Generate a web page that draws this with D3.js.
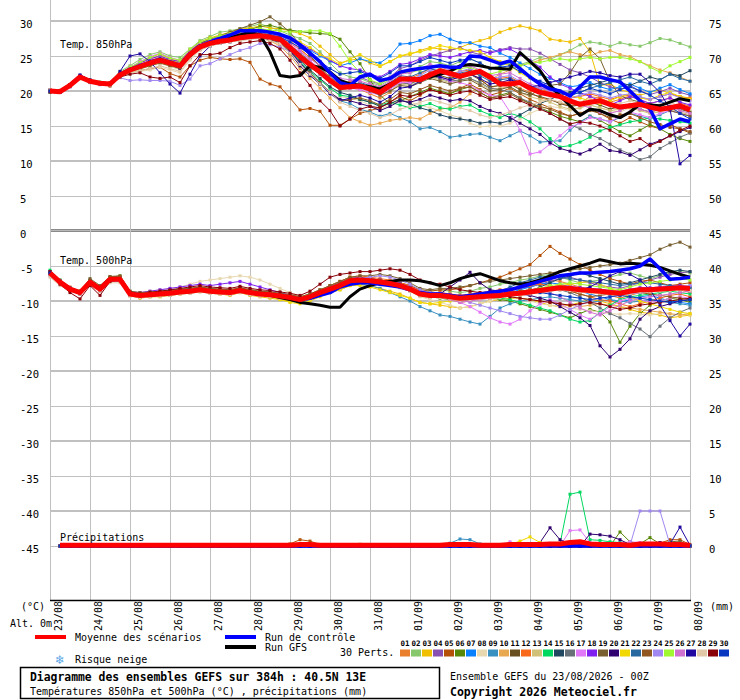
<!DOCTYPE html>
<html><head><meta charset="utf-8">
<script src="https://cdn.jsdelivr.net/npm/d3@7"></script>
<style>body{margin:0;background:#fff}svg{display:block}</style>
</head><body><svg id="chart" width="740" height="700"></svg>
<script>
// ---------------- DATA ----------------
const dates = ["23/08","24/08","25/08","26/08","27/08","28/08","29/08","30/08","31/08","01/09","02/09","03/09","04/09","05/09","06/09","07/09","08/09"];
const leftTicks = [30,25,20,15,10,5,0,-5,-10,-15,-20,-25,-30,-35,-40,-45];
const rightTicks = [75,70,65,60,55,50,45,40,35,30,25,20,15,10,5,0];
const memberColors = ["#e8802e","#88c86c","#f0c000","#8850b0","#b45008","#588808","#0880ff","#e8d8b0","#3890c0","#e8a850","#685020","#f86818","#d0c078","#00d860","#204860","#687078","#e078f8","#8020f0","#786030","#300070","#f0d800","#2868a0","#905820","#a088f0","#a0f830","#d070d0","#2008a0","#e0c8a8","#880008","#0838c0"];

const t850Mean = [20.0,19.9,20.8,22.0, 21.4,21.1,21.0,22.3, 23.0,23.5,24.0,24.4, 24.0,23.6,25.2,26.3, 26.8,27.1,27.3,27.6, 27.8,27.9,27.7,27.4, 26.2,24.9,23.8,22.7, 21.5,20.5,20.6,20.7, 20.3,19.8,20.8,21.7, 21.7,21.6,22.3,22.9, 22.5,22.1,22.5,22.8, 22.0,21.0,21.0,21.2, 20.4,19.8,19.5,19.2, 18.6,18.1,18.4,18.6, 18.1,17.7,17.9,18.1, 17.7,17.4,17.6,17.9, 17.3];
const t850Ctrl = [20.0,19.9,20.8,22.1, 21.4,21.1,21.0,22.4, 23.1,23.6,24.1,24.5, 24.1,23.7,25.3,26.4, 27.0,27.5,28.0,28.6, 28.6,28.6,28.4,28.1, 27.6,26.6,25.4,24.2, 22.6,21.2,20.8,22.0, 22.4,21.5,21.8,22.7, 23.0,23.2,23.4,23.6, 23.4,23.4,25.0,24.9, 24.4,23.9,24.3,23.2, 22.0,21.0,20.3,20.0, 19.3,20.6,22.0,22.0, 21.6,21.3,20.0,18.6, 17.4,14.6,15.3,16.0, 15.6];
const t850Gfs = [20.0,19.9,20.9,22.0, 21.4,21.1,21.0,22.3, 23.0,23.5,24.0,24.4, 24.0,23.6,25.2,26.3, 26.8,27.2,27.6,28.0, 28.4,28.0,25.6,22.2, 22.0,22.2,23.6,23.4, 22.7,21.5,21.0,20.8, 20.6,20.3,21.0,21.7, 21.6,21.8,22.0,22.4, 22.8,23.6,23.8,23.6, 23.3,23.2,23.1,25.5, 24.2,22.9,20.8,19.3, 17.9,16.5,17.4,17.2, 16.6,16.2,17.0,18.1, 18.0,17.9,18.4,18.9, 18.6];
const t850Members = [
[20.1,19.8,20.9,22.1, 21.3,21.0,20.8,22.5, 23.4,24.0,24.6,25.0, 24.3,23.9,25.8,26.9, 27.5,27.8,28.0,28.3, 28.6,28.9,28.5,28.0, 27.2,26.0,24.8,23.5, 22.0,20.8,20.5,20.2, 19.6,19.0,19.8,21.2, 21.0,21.8,22.6,22.0, 21.5,22.0,22.5,21.8, 20.5,20.8,21.2,20.4, 19.8,19.0,18.7,18.4, 17.8,18.3,19.2,19.0, 18.4,18.8,19.3,18.7, 18.2,18.6,19.0,18.3, 17.8],
[20.0,20.1,20.7,21.8, 21.6,21.3,21.2,22.8, 23.6,24.5,25.2,25.6, 25.0,24.8,26.0,27.2, 27.8,28.4,28.6,28.9, 29.2,29.6,29.1,28.6, 28.0,27.5,26.8,25.6, 24.0,22.6,22.0,21.8, 21.2,20.8,21.6,22.4, 22.8,23.5,24.2,24.0, 23.6,24.2,24.6,24.0, 23.2,23.6,24.0,23.8, 24.2,24.8,24.5,25.2, 25.8,26.6,27.0,26.8, 26.4,26.9,26.6,26.4, 26.9,27.5,27.3,26.8, 26.3],
[20.2,19.9,20.9,22.0, 21.5,21.2,21.1,22.4, 23.2,24.0,24.8,25.3, 24.6,24.2,25.9,27.0, 27.6,28.0,28.4,28.8, 29.0,29.3,29.0,28.9, 28.6,28.2,27.6,26.4, 25.2,24.0,24.4,24.6, 24.0,23.5,24.2,25.0, 25.2,25.8,26.2,26.0, 25.8,26.2,26.8,27.2, 27.6,28.4,28.9,29.3, 29.0,28.6,27.4,27.2, 27.0,27.5,25.6,20.8, 21.0,20.2,19.8,19.4, 19.8,20.2,19.6,19.2, 19.0],
[19.9,19.8,20.6,21.9, 21.3,21.0,20.9,22.1, 22.8,23.4,24.2,24.7, 24.0,23.4,25.0,26.4, 27.0,27.4,27.6,27.9, 28.2,28.4,28.0,27.6, 26.6,25.2,24.0,22.8, 21.6,20.6,21.4,22.0, 21.4,21.0,22.0,23.2, 23.6,24.4,25.0,25.4, 25.8,26.2,25.6,25.2, 25.6,25.9,26.2,26.0, 26.0,25.4,24.6,23.8, 23.0,22.6,22.0,21.2, 20.6,20.2,20.8,20.0, 19.5,19.9,20.4,19.8, 19.4],
[20.1,20.0,20.9,22.2, 21.5,21.0,20.7,22.0, 22.6,22.9,23.2,23.4, 22.5,22.0,23.6,24.4, 24.8,24.6,24.5,24.6, 24.1,21.7,21.0,20.6, 19.0,17.3,17.5,17.1, 15.1,15.1,16.0,16.8, 17.2,17.6,18.4,19.2, 18.6,19.4,20.2,19.8, 19.6,20.4,21.0,20.2, 19.4,19.8,20.4,19.6, 18.8,18.2,17.6,17.0, 16.4,16.8,17.4,16.8, 16.0,15.4,16.2,15.6, 15.0,14.6,15.2,14.6, 14.0],
[19.8,19.9,20.8,22.0, 21.4,21.2,21.1,22.6, 23.3,23.8,24.2,24.6, 24.2,24.0,25.6,26.7, 27.2,27.6,27.9,28.4, 28.8,29.2,29.4,29.0, 28.7,28.5,28.3,28.2, 28.1,27.4,25.6,23.9, 21.6,19.4,18.2,18.6, 19.2,19.8,20.4,20.0, 19.6,20.2,20.6,19.8, 19.0,19.4,19.8,19.0, 18.2,17.6,17.0,16.4, 16.0,15.6,16.4,15.8, 15.0,14.2,13.6,14.4, 15.2,14.6,13.8,13.2, 12.8],
[20.0,19.9,20.8,22.1, 21.4,21.2,21.0,22.4, 23.1,23.6,24.1,24.6, 24.2,23.8,25.4,26.6, 27.2,27.5,27.7,28.0, 28.3,28.5,28.2,27.8, 27.3,26.6,25.8,25.0, 24.3,23.6,24.0,24.6, 24.2,24.0,25.0,26.7, 26.8,27.2,27.9,28.1, 27.4,26.9,26.9,26.4, 26.2,25.4,24.8,24.0, 23.2,22.4,21.8,21.2, 20.6,20.8,21.2,20.6, 20.2,20.6,21.0,20.4, 19.8,20.4,20.9,20.2, 19.6],
[20.2,20.0,20.6,21.7, 21.2,21.0,20.9,22.0, 22.6,22.8,23.0,23.4, 23.0,22.6,24.4,25.8, 26.4,26.8,27.0,27.2, 27.4,27.6,27.2,26.6, 25.6,24.4,23.0,21.8, 20.6,19.2,19.0,18.6, 18.0,17.4,18.0,18.8, 18.4,18.0,17.6,17.2, 16.6,16.2,15.4,14.9, 15.0,15.0,15.4,16.0, 16.8,17.4,17.8,17.6, 17.2,17.6,18.0,17.6, 17.2,17.0,17.6,17.4, 17.0,17.2,17.8,17.4, 17.0],
[20.0,19.8,20.7,21.9, 21.4,21.1,21.0,22.2, 22.9,23.4,23.8,24.2, 23.8,23.4,25.0,26.2, 26.7,27.0,27.2,27.5, 27.7,27.8,27.4,27.0, 25.8,24.2,22.6,21.2, 19.8,18.6,18.2,17.4, 17.0,16.4,16.8,16.2, 15.6,14.6,14.8,14.2, 13.4,13.6,13.8,13.9, 13.4,12.9,13.6,14.3, 13.6,12.7,12.8,12.9, 14.4,15.6,16.4,16.0, 15.6,16.2,16.8,16.4, 16.0,16.6,17.2,16.8, 16.4],
[20.1,20.0,20.8,22.0, 21.4,21.0,20.9,22.3, 23.0,23.3,23.8,24.2, 23.8,23.3,25.0,26.2, 26.6,26.9,27.2,27.4, 27.6,27.6,27.2,26.4, 25.0,23.2,21.8,20.4, 19.0,17.6,16.2,15.6, 15.1,15.4,15.8,16.0, 16.2,16.0,16.8,17.4, 17.6,18.4,19.6,20.8, 21.6,22.4,23.0,23.6, 24.0,24.4,24.8,25.2, 25.6,25.2,25.0,25.6, 25.8,25.2,24.9,24.2, 23.6,23.0,22.6,22.0, 21.4],
[19.9,19.9,20.9,22.0, 21.3,21.1,21.1,22.2, 22.8,23.2,23.9,24.3, 23.9,23.7,25.2,26.2, 26.8,27.2,27.4,27.7, 27.9,28.0,27.7,27.3, 26.0,24.6,23.4,22.4, 21.2,20.2,20.4,20.6, 20.2,19.6,20.4,21.5, 21.4,22.0,22.6,22.2, 21.8,22.2,22.4,21.6, 20.6,20.8,21.0,20.2, 19.6,19.2,18.8,18.2, 17.8,18.0,18.4,18.0, 17.4,17.8,18.0,17.4, 17.0,17.4,17.8,17.4, 17.0],
[20.0,20.0,20.9,22.2, 21.5,21.2,21.0,22.4, 23.0,23.6,24.2,24.6, 24.1,23.8,25.4,26.6, 27.0,27.3,27.5,27.8, 28.0,28.1,27.9,27.6, 26.8,25.9,24.8,23.6, 22.4,21.4,21.2,21.0, 20.6,20.0,20.8,21.8, 21.8,22.4,23.2,22.8, 22.4,22.8,23.0,22.4, 21.6,21.8,22.0,21.2, 20.6,20.2,19.9,19.4, 19.0,19.2,19.6,19.2, 18.8,19.2,19.4,19.0, 18.8,19.2,19.6,19.2, 18.9],
[20.1,19.9,20.7,21.9, 21.3,21.0,20.9,22.1, 22.7,23.1,23.6,24.0, 23.5,23.1,24.8,26.0, 26.5,26.9,27.1,27.4, 27.6,27.7,27.5,27.2, 26.4,25.4,24.2,23.0, 21.8,20.9,20.8,20.6, 20.0,19.4,20.0,21.0, 20.8,21.4,22.0,21.6, 21.2,21.6,21.8,21.0, 20.2,20.4,20.6,19.8, 19.2,18.8,18.4,17.8, 17.4,17.6,18.0,17.6, 17.2,17.4,17.6,17.2, 16.8,17.0,17.4,17.0, 16.6],
[20.0,19.9,20.8,22.0, 21.4,21.2,21.0,22.3, 23.0,23.5,23.9,24.3, 23.9,23.5,25.1,26.3, 26.8,27.1,27.3,27.6, 27.8,27.9,27.6,27.2, 25.8,24.2,22.8,21.6, 20.4,19.4,19.2,18.8, 18.4,18.0,18.4,18.0, 17.6,17.8,18.2,17.6, 17.4,17.8,18.0,17.2, 16.6,16.2,16.8,16.4, 15.6,14.6,13.2,12.0, 12.2,12.7,13.4,14.3, 14.8,15.2,15.6,15.8, 16.2,16.0,15.8,15.6, 15.4],
[19.9,19.8,20.7,21.9, 21.3,21.1,21.0,22.2, 22.9,23.4,23.9,24.3, 23.9,23.4,25.0,26.2, 26.7,27.0,27.2,27.5, 27.7,27.8,27.5,27.1, 26.0,24.5,23.0,21.8, 20.6,19.8,19.4,18.8, 18.4,17.8,18.2,18.8, 18.2,17.6,17.2,16.6, 16.2,16.0,15.8,15.4, 15.6,15.4,15.8,16.6, 17.4,18.2,18.8,19.4, 19.8,20.4,20.8,21.2, 21.6,21.2,20.8,21.4, 22.0,21.6,22.4,22.2, 22.9],
[20.0,19.9,20.8,22.0, 21.4,21.1,20.9,22.3, 23.0,23.5,24.0,24.4, 24.0,23.6,25.2,26.4, 26.9,27.2,27.4,27.7, 27.9,28.0,27.8,27.5, 26.5,25.4,24.3,23.2, 22.0,21.0,20.8,20.6, 20.2,19.8,20.4,21.2, 21.0,21.6,22.2,21.8, 21.4,21.6,21.8,21.2, 20.4,20.2,19.8,19.0, 18.4,17.6,16.8,16.0, 15.2,14.6,13.8,13.2, 12.4,11.6,11.0,10.2, 10.6,11.8,12.6,13.4, 14.0],
[20.2,20.0,20.9,22.1, 21.5,21.2,21.1,22.6, 23.4,24.2,24.9,25.4, 24.8,24.4,25.9,26.9, 27.4,27.8,28.0,28.3, 28.5,28.6,28.2,27.8, 27.0,25.8,24.4,23.0, 21.8,20.6,20.4,20.2, 19.8,19.4,20.2,21.2, 21.2,21.8,22.4,22.0, 21.4,21.2,20.8,20.0, 19.4,19.2,17.0,14.4, 11.0,11.3,12.4,13.6, 14.8,15.4,16.2,16.0, 15.6,16.4,17.0,16.6, 16.2,16.8,17.2,16.8, 16.4],
[20.0,19.8,20.8,22.1, 21.4,21.1,21.0,22.5, 23.3,24.0,24.6,25.0, 24.5,24.2,25.7,26.8, 27.3,27.7,27.9,28.2, 28.4,28.6,28.3,27.9, 27.4,26.8,26.0,25.2, 24.4,23.6,23.2,23.0, 22.4,22.0,22.8,23.8, 24.0,24.6,25.2,25.0, 24.8,25.2,25.6,25.8, 25.4,25.8,26.0,25.2, 24.4,23.4,22.0,21.0, 20.4,19.8,19.2,18.6, 18.0,18.6,19.2,18.8, 18.2,18.6,19.0,18.4, 18.0],
[20.1,19.9,20.8,22.0, 21.4,21.1,21.0,22.3, 23.0,23.6,24.2,24.8, 24.4,24.0,25.6,26.8, 27.4,27.9,28.4,28.9, 29.4,29.9,30.6,29.6, 28.4,26.6,25.0,23.6, 22.4,21.4,21.0,20.6, 20.0,19.4,20.0,20.8, 20.6,21.2,21.8,21.4, 21.0,21.4,21.6,20.8, 20.0,20.2,20.6,19.8, 19.4,20.2,20.8,21.0, 22.6,24.8,26.0,24.6, 21.3,19.3,18.8,18.4, 18.0,17.6,17.2,16.8, 16.4],
[19.9,19.9,20.9,22.1, 21.4,21.2,21.1,22.4, 23.1,23.5,23.9,24.2, 23.7,23.2,24.8,26.0, 26.5,26.8,27.0,27.3, 27.5,27.6,27.3,26.9, 25.4,23.6,22.2,21.0, 19.8,18.8,18.6,18.2, 17.8,17.2,17.8,18.6, 18.4,18.8,19.4,19.0, 18.6,18.8,18.6,17.8, 17.2,16.8,16.2,15.4, 14.6,13.8,12.6,11.8, 11.4,11.0,11.6,12.4, 11.5,11.3,10.8,11.6, 12.4,12.9,13.6,14.2, 14.8],
[20.0,20.0,20.8,22.0, 21.4,21.2,21.1,22.4, 23.2,23.8,24.4,24.8, 24.3,24.0,25.5,26.6, 27.1,27.5,27.7,28.0, 28.2,28.4,28.2,28.0, 27.6,27.0,26.2,25.2, 24.6,23.8,24.6,25.2, 24.4,23.6,24.2,25.0, 25.4,25.6,26.0,26.5, 26.2,26.0,25.8,25.6, 24.8,24.2,23.6,22.6, 21.8,21.0,20.6,20.0, 19.4,19.0,18.6,18.2, 18.6,19.2,19.6,19.0, 18.8,19.4,19.8,19.2, 18.8],
[20.1,19.9,20.8,22.0, 21.4,21.1,20.9,22.3, 22.9,23.5,24.0,24.4, 24.0,23.6,25.2,26.4, 26.9,27.2,27.5,27.8, 28.0,28.1,27.8,27.4, 26.4,25.0,23.8,22.6, 21.4,20.4,20.8,21.2, 20.8,20.4,21.2,22.2, 22.0,22.6,23.2,22.8, 22.4,22.6,22.8,22.2, 21.4,21.6,21.8,21.2, 20.6,20.4,20.2,19.6, 19.4,19.8,20.4,20.8, 21.2,21.6,22.0,21.4, 21.0,21.6,22.4,21.8, 21.4],
[20.0,20.0,20.8,21.9, 21.3,21.0,21.0,22.2, 22.8,23.2,23.6,24.0, 23.6,23.3,25.0,26.2, 26.7,27.0,27.2,27.5, 27.6,27.7,27.4,27.0, 25.6,24.0,22.6,21.2, 19.8,18.6,18.8,19.0, 18.6,18.0,18.8,19.8, 19.6,20.2,20.8,20.4, 20.0,20.4,20.6,19.8, 19.0,19.2,19.6,18.8, 18.2,17.8,17.4,16.8, 16.4,16.8,17.2,16.8, 16.2,16.6,16.8,16.2, 15.6,15.2,14.8,14.6, 14.2],
[20.0,19.8,20.6,21.8, 21.2,20.9,20.9,21.9, 21.5,21.6,21.5,21.5, 21.4,20.8,21.7,23.6, 23.9,24.6,25.2,25.8, 26.2,26.8,26.6,26.3, 25.6,24.8,23.6,22.4, 21.2,20.4,20.6,20.8, 20.4,20.0,20.8,21.8, 21.6,22.2,23.0,22.6, 22.2,22.8,23.2,22.6, 21.8,22.0,22.2,21.4, 20.8,20.4,20.0,19.4, 19.0,19.4,19.8,19.4, 19.0,19.4,19.6,19.2, 18.8,19.2,19.6,19.0, 18.6],
[20.1,20.0,20.9,22.1, 21.5,21.2,21.1,22.6, 23.4,24.1,24.8,25.3, 24.7,24.4,26.0,27.0, 27.5,27.9,28.2,28.5, 28.7,28.9,28.7,28.6, 28.4,28.5,28.6,28.6, 28.2,26.4,24.2,22.6, 21.6,21.0,21.8,22.8, 22.6,23.0,23.6,23.2, 22.8,23.2,23.4,22.8, 22.4,22.8,23.2,23.6, 24.0,24.1,24.4,24.6, 24.4,24.6,24.8,24.6, 24.8,24.8,24.6,24.2, 23.4,22.7,23.6,24.2, 24.8],
[20.0,19.9,20.8,22.0, 21.4,21.1,21.0,22.4, 23.2,23.8,24.4,24.8, 24.3,23.9,25.5,26.6, 27.1,27.4,27.6,27.9, 28.1,28.2,27.9,27.5, 26.6,25.6,24.6,23.6, 22.6,21.8,21.6,21.4, 21.0,20.6,21.4,22.4, 22.6,23.2,23.8,23.4, 23.0,23.4,23.6,23.0, 22.2,22.4,22.6,21.8, 21.0,20.6,20.0,19.2, 18.4,18.0,17.6,17.0, 16.8,17.2,17.8,17.4, 17.0,17.4,17.8,17.2, 16.8],
[20.0,19.8,20.9,22.3, 21.6,21.2,21.0,22.8, 25.0,25.3,24.2,22.6, 21.0,19.7,22.4,25.0, 26.4,27.0,27.4,27.8, 28.0,28.2,27.8,27.2, 25.8,24.0,22.4,21.0, 19.6,18.6,19.0,19.4, 19.0,18.4,19.2,20.4, 20.6,21.4,22.2,22.0, 21.6,22.0,22.4,21.8, 21.0,21.2,21.6,21.2, 20.6,20.8,21.2,21.6, 22.0,22.4,22.8,22.6, 22.2,22.0,22.4,22.4, 21.2,19.8,17.4,9.6, 10.8],
[20.1,20.0,20.7,21.8, 21.3,21.0,20.9,22.0, 22.6,22.9,23.2,23.6, 23.2,22.8,24.6,25.9, 26.4,26.8,27.0,27.2, 27.4,27.5,27.2,26.8, 25.4,23.8,22.4,21.0, 19.8,18.4,17.8,17.2, 16.8,16.2,16.6,17.4, 17.8,18.4,18.8,18.4, 18.0,17.6,17.2,16.6, 16.2,16.6,17.0,17.6, 18.0,18.4,18.8,18.4, 18.0,18.4,18.8,18.4, 18.0,18.2,18.6,18.2, 17.8,18.0,18.4,17.8, 17.4],
[20.0,19.9,20.7,21.9, 21.3,21.0,21.1,22.0, 22.4,22.6,22.0,21.8, 22.0,21.2,23.6,25.2, 25.2,25.4,26.2,26.8, 27.0,27.2,26.8,26.0, 24.4,22.6,20.8,18.6, 17.2,15.0,16.0,17.4, 17.8,17.6,18.4,19.4, 19.2,19.6,20.2,19.8, 19.4,19.8,20.0,19.4, 18.8,19.0,19.2,18.6, 18.0,17.4,16.8,16.0, 15.3,15.6,15.4,15.0, 14.4,13.6,12.8,13.2, 12.2,12.8,13.6,14.4, 15.0],
[20.0,19.9,20.8,22.0, 21.4,21.1,21.0,22.4, 23.1,23.7,24.3,24.7, 24.2,23.8,25.4,26.5, 27.0,27.3,27.6,27.9, 28.1,28.2,28.0,27.7, 27.0,26.2,25.2,24.2, 23.2,22.4,22.6,22.8, 22.2,21.8,22.6,23.6, 23.6,24.2,24.8,24.4, 24.0,24.4,24.6,24.0, 23.2,23.4,23.6,22.8, 22.0,21.4,20.8,20.0, 19.4,19.8,20.4,20.0, 19.6,20.2,20.6,20.0, 19.4,18.6,17.8,16.8, 16.0]
];

const t500Mean = [-6.0,-7.3,-8.3,-8.8, -7.3,-8.3,-6.9,-6.9, -9.0,-9.2,-9.1,-9.0, -8.9,-8.7,-8.6,-8.4, -8.6,-8.7,-8.8,-8.5, -8.8,-9.0,-9.1,-9.3, -9.5,-9.8,-9.4,-8.8, -8.3,-7.8,-7.1,-7.0, -7.1,-7.3,-7.5,-7.8, -8.3,-9.0,-9.2,-9.2, -9.4,-9.6,-9.5,-9.4, -9.3,-9.2,-9.0,-8.9, -8.7,-8.5,-8.3,-8.1, -8.2,-8.4,-8.5,-8.6, -8.8,-8.9,-8.6,-8.4, -8.4,-8.3,-8.2,-8.1, -8.2];
const t500Ctrl = [-6.0,-7.3,-8.3,-8.8, -7.3,-8.3,-6.9,-6.9, -9.0,-9.2,-9.1,-9.0, -8.9,-8.7,-8.6,-8.4, -8.6,-8.7,-8.8,-8.5, -8.8,-9.0,-9.1,-9.3, -9.5,-9.8,-9.6,-9.2, -8.8,-8.0,-7.6,-7.4, -7.4,-7.6,-7.8,-8.0, -8.4,-8.8,-9.0,-9.0, -9.2,-9.4,-9.2,-9.0, -8.8,-8.6,-8.4,-8.0, -7.6,-7.2,-6.8,-6.4, -6.2,-6.0,-6.0,-5.9, -5.8,-5.6,-5.4,-5.0, -4.0,-5.4,-6.9,-6.8, -6.6];
const t500Gfs = [-6.0,-7.3,-8.3,-8.8, -7.3,-8.3,-6.9,-6.9, -9.0,-9.2,-9.1,-9.0, -8.9,-8.7,-8.6,-8.4, -8.6,-8.7,-8.8,-8.5, -8.8,-9.0,-9.2,-9.5, -9.8,-10.2,-10.4,-10.6, -10.9,-10.9,-9.4,-8.3, -7.8,-7.4,-7.2,-7.0, -7.0,-7.1,-7.4,-7.8, -7.4,-6.8,-6.4,-6.1, -6.6,-7.1,-7.4,-7.6, -7.4,-7.0,-6.4,-5.8, -5.4,-5.0,-4.6,-4.1, -4.4,-4.7,-4.6,-4.7, -4.9,-5.2,-5.7,-6.2, -6.6];
const t500Members = [
[-5.8,-7.1,-8.2,-8.9, -7.2,-8.1,-6.8,-6.6, -8.8,-9.4,-9.3,-9.2, -9.0,-8.6,-8.4,-8.2, -8.4,-8.5,-8.6,-8.2, -8.6,-8.8,-9.0,-9.4, -9.6,-10.0,-9.6,-8.6, -7.8,-7.2,-6.6,-6.8, -6.9,-7.0,-7.2,-7.6, -8.0,-8.8,-9.0,-9.4, -9.8,-10.2,-10.0,-9.6, -9.2,-8.8,-8.6,-8.2, -7.8,-7.4,-7.0,-7.2, -7.6,-8.0,-8.4,-8.8, -9.2,-9.6,-9.2,-8.8, -8.6,-8.2,-8.0,-8.4, -8.8],
[-6.2,-7.4,-8.4,-8.6, -7.0,-8.0,-6.6,-6.4, -8.6,-8.9,-8.8,-8.6, -8.6,-8.4,-8.2,-8.0, -8.2,-8.4,-8.5,-8.2, -8.4,-8.6,-8.8,-9.0, -9.2,-9.4,-9.0,-8.4, -8.0,-7.4,-6.8,-6.6, -6.8,-7.0,-7.2,-7.4, -7.8,-8.4,-8.6,-8.4, -8.6,-8.8,-8.6,-8.2, -8.0,-7.6,-7.4,-7.0, -6.8,-6.4,-6.2,-6.6, -7.0,-7.4,-7.2,-7.0, -6.6,-6.2,-6.0,-6.4, -6.8,-6.4,-6.0,-5.8, -6.0],
[-6.0,-7.5,-8.5,-9.0, -7.6,-8.6,-7.2,-7.2, -9.2,-9.6,-9.4,-9.4, -9.2,-9.0,-8.8,-8.6, -8.8,-9.0,-9.2,-8.8, -9.2,-9.4,-9.6,-9.8, -10.0,-10.2,-9.8,-9.2, -8.8,-8.4,-7.8,-7.6, -7.8,-8.2,-8.6,-9.0, -9.6,-10.2,-10.4,-10.6, -10.8,-11.0,-10.8,-10.4, -10.0,-9.8,-9.6,-9.6, -9.8,-10.2,-10.6,-10.8, -10.6,-10.2,-9.8,-10.0, -10.4,-10.8,-11.2,-11.6, -11.8,-12.0,-12.4,-12.2, -12.0],
[-5.9,-7.2,-8.2,-8.8, -7.4,-8.4,-7.0,-7.0, -9.0,-9.2,-9.0,-8.9, -8.8,-8.6,-8.5,-8.3, -8.5,-8.6,-8.7,-8.4, -8.7,-8.9,-9.0,-9.2, -9.4,-9.6,-9.2,-8.6, -8.0,-7.4,-6.8,-6.8, -7.0,-7.2,-7.4,-7.6, -8.2,-8.8,-9.0,-9.0, -9.2,-9.4,-9.2,-9.0, -8.8,-8.6,-8.4,-8.2, -8.0,-7.6,-7.2,-6.8, -6.6,-7.0,-7.4,-7.8, -8.0,-8.2,-7.8,-7.4, -7.0,-6.6,-6.2,-6.0, -5.8],
[-6.1,-7.3,-8.4,-8.9, -7.3,-8.3,-6.9,-6.8, -8.9,-9.1,-9.0,-8.8, -8.7,-8.5,-8.3,-8.1, -8.3,-8.4,-8.5,-8.2, -8.5,-8.7,-8.9,-9.1, -9.3,-9.6,-9.2,-8.6, -8.0,-7.4,-6.8,-6.6, -6.8,-7.0,-7.2,-7.4, -7.8,-8.4,-8.6,-8.4, -8.4,-8.2,-7.8,-7.4, -7.0,-6.6,-6.0,-5.4, -4.8,-3.5,-2.2,-3.2, -4.0,-4.8,-5.6,-6.2, -6.8,-7.2,-7.6,-7.2, -7.0,-7.4,-7.8,-7.6, -7.4],
[-5.9,-7.2,-8.3,-8.7, -7.2,-8.2,-6.8,-6.8, -8.9,-9.1,-9.0,-8.9, -8.8,-8.6,-8.5,-8.3, -8.5,-8.6,-8.7,-8.4, -8.7,-8.9,-9.0,-9.2, -9.4,-9.7,-9.3,-8.7, -8.2,-7.6,-7.0,-6.9, -7.0,-7.2,-7.4,-7.8, -8.4,-9.2,-9.4,-9.6, -9.8,-10.0,-9.8,-9.6, -9.6,-9.8,-10.0,-10.4, -10.8,-11.2,-11.6,-12.0, -12.4,-11.8,-11.2,-11.6, -13.0,-15.9,-13.6,-11.8, -10.6,-10.0,-9.6,-9.8, -10.2],
[-6.0,-7.3,-8.3,-8.8, -7.3,-8.3,-6.9,-6.9, -9.1,-9.3,-9.2,-9.1, -9.0,-8.8,-8.7,-8.5, -8.7,-8.8,-8.9,-8.6, -8.9,-9.1,-9.2,-9.4, -9.6,-9.9,-9.5,-8.9, -8.4,-7.9,-7.2,-7.1, -7.2,-7.4,-7.6,-7.9, -8.4,-9.1,-9.3,-9.3, -9.6,-9.8,-9.8,-9.6, -9.4,-9.2,-8.8,-8.4, -8.0,-7.6,-7.4,-7.6, -8.0,-8.6,-9.0,-9.4, -9.8,-10.2,-9.8,-9.4, -9.2,-9.6,-10.0,-10.2, -10.4],
[-6.2,-7.4,-8.2,-8.6, -7.0,-8.0,-6.8,-6.6, -8.6,-8.8,-8.6,-8.4, -8.2,-8.0,-7.6,-7.2, -7.0,-6.8,-6.6,-6.4, -6.6,-7.0,-7.6,-8.2, -8.8,-9.4,-9.2,-8.6, -8.0,-7.4,-6.8,-6.6, -6.8,-7.2,-7.6,-8.0, -8.6,-9.4,-9.8,-10.2, -10.6,-11.0,-10.8,-10.4, -10.0,-9.6,-9.4,-9.6, -10.0,-10.4,-10.6,-10.8, -11.0,-11.2,-11.4,-11.6, -11.8,-11.9,-11.8,-11.9, -12.0,-11.8,-11.9,-12.0, -11.9],
[-5.9,-7.2,-8.3,-8.9, -7.4,-8.4,-7.0,-7.1, -9.2,-9.4,-9.3,-9.2, -9.1,-8.9,-8.8,-8.6, -8.8,-8.9,-9.0,-8.7, -9.0,-9.2,-9.4,-9.6, -9.8,-10.2,-9.8,-9.2, -8.6,-8.2,-7.6,-7.6, -7.8,-8.2,-8.8,-9.4, -10.0,-10.8,-11.4,-12.0, -12.2,-12.6,-13.0,-13.3, -12.2,-11.0,-10.4,-10.0, -9.8,-9.6,-9.4,-9.6, -9.8,-10.0,-10.2,-10.0, -9.8,-10.0,-10.2,-10.0, -9.8,-10.0,-10.2,-10.4, -10.6],
[-6.0,-7.4,-8.4,-8.9, -7.4,-8.4,-7.0,-7.0, -9.1,-9.3,-9.2,-9.1, -9.0,-8.8,-8.7,-8.5, -8.7,-8.8,-8.9,-8.6, -8.9,-9.1,-9.2,-9.4, -9.6,-9.9,-9.5,-8.8, -8.2,-7.6,-6.9,-6.8, -6.9,-7.0,-7.2,-7.5, -8.0,-8.6,-8.8,-8.8, -9.0,-9.2,-9.2,-9.0, -9.0,-9.2,-9.4,-9.6, -9.8,-10.0,-10.2,-10.4, -10.6,-10.8,-10.6,-10.4, -10.6,-10.8,-11.0,-11.2, -11.4,-11.6,-11.8,-12.0, -11.8],
[-6.1,-7.3,-8.2,-8.7, -7.0,-8.0,-6.6,-6.6, -8.8,-9.0,-8.9,-8.8, -8.7,-8.5,-8.4,-8.2, -8.4,-8.5,-8.6,-8.3, -8.6,-8.8,-8.9,-9.1, -9.3,-9.6,-9.2,-8.6, -8.1,-7.6,-7.0,-6.9, -7.0,-7.2,-7.4,-7.7, -8.2,-8.9,-9.1,-9.1, -9.3,-9.5,-9.4,-9.3, -9.2,-9.1,-8.9,-8.8, -8.6,-8.4,-8.2,-8.0, -8.1,-8.3,-8.4,-8.5, -8.7,-8.8,-8.5,-8.3, -8.3,-8.2,-8.1,-8.0, -8.1],
[-5.8,-7.0,-8.0,-8.6, -7.1,-8.1,-6.7,-6.6, -8.7,-8.9,-8.8,-8.7, -8.5,-8.3,-8.2,-8.0, -8.2,-8.3,-8.4,-8.1, -8.4,-8.6,-8.7,-8.9, -9.1,-9.4,-9.0,-8.4, -7.8,-7.2,-6.6,-6.4, -6.6,-6.8,-7.0,-7.4, -7.8,-8.6,-8.8,-8.8, -9.0,-9.2,-9.0,-8.8, -8.6,-8.4,-8.2,-8.0, -7.8,-7.6,-7.8,-8.2, -8.6,-9.0,-9.4,-9.8, -10.0,-10.4,-10.8,-10.4, -10.0,-9.6,-9.2,-9.0, -9.4],
[-6.3,-7.5,-8.5,-9.0, -7.6,-8.6,-7.2,-7.2, -9.3,-9.5,-9.4,-9.3, -9.2,-9.0,-8.9,-8.7, -8.9,-9.0,-9.1,-8.8, -9.1,-9.3,-9.4,-9.6, -9.8,-10.1,-9.7,-9.1, -8.6,-8.1,-7.4,-7.3, -7.4,-7.6,-7.8,-8.1, -8.6,-9.3,-9.5,-9.5, -9.7,-9.9,-9.8,-9.7, -9.6,-9.5,-9.3,-9.2, -9.0,-8.8,-8.6,-8.4, -8.5,-8.7,-8.8,-8.9, -9.1,-9.2,-8.9,-8.7, -8.7,-8.6,-8.5,-8.4, -8.5],
[-5.6,-7.0,-8.1,-8.6, -7.1,-8.1,-6.7,-6.7, -8.8,-9.0,-8.9,-8.8, -8.7,-8.5,-8.4,-8.2, -8.4,-8.5,-8.6,-8.3, -8.6,-8.8,-8.9,-9.1, -9.3,-9.6,-9.2,-8.6, -8.1,-7.6,-7.0,-6.9, -7.0,-7.2,-7.4,-7.7, -8.2,-8.9,-9.1,-9.1, -9.3,-9.5,-9.4,-9.3, -9.4,-9.6,-9.8,-10.2, -10.6,-11.0,-11.4,-12.0, -12.6,-13.0,-12.8,-11.6, -10.6,-9.8,-9.4,-9.2, -9.0,-8.8,-8.6,-8.8, -9.0],
[-6.0,-7.2,-8.2,-8.8, -7.2,-8.2,-6.8,-6.8, -8.9,-9.1,-9.0,-8.9, -8.8,-8.6,-8.5,-8.3, -8.5,-8.6,-8.7,-8.4, -8.7,-8.9,-9.0,-9.2, -9.4,-9.7,-9.3,-8.7, -8.2,-7.7,-7.0,-6.9, -7.0,-7.2,-7.4,-7.7, -8.2,-8.9,-9.1,-9.1, -9.3,-9.5,-9.4,-9.3, -9.2,-9.1,-8.9,-8.8, -8.6,-8.0,-7.4,-6.8, -6.4,-6.0,-6.4,-6.8, -7.2,-7.6,-7.4,-7.0, -6.6,-6.2,-5.8,-5.6, -5.8],
[-6.1,-7.4,-8.4,-8.9, -7.4,-8.4,-7.0,-7.0, -9.1,-9.3,-9.2,-9.1, -9.0,-8.8,-8.7,-8.5, -8.7,-8.8,-8.9,-8.6, -8.9,-9.1,-9.2,-9.4, -9.6,-9.9,-9.5,-8.9, -8.4,-7.9,-7.2,-7.1, -7.2,-7.4,-7.6,-7.9, -8.4,-9.1,-9.3,-9.3, -9.5,-9.7,-9.6,-9.5, -9.4,-9.3,-9.1,-9.0, -8.8,-8.6,-8.4,-8.4, -8.8,-9.4,-10.2,-11.0, -11.8,-12.4,-13.2,-14.0, -15.1,-13.6,-12.4,-11.6, -11.0],
[-6.0,-7.3,-8.3,-8.8, -7.3,-8.3,-6.9,-6.9, -9.0,-9.2,-9.1,-9.0, -8.9,-8.7,-8.6,-8.4, -8.6,-8.7,-8.8,-8.5, -8.8,-9.0,-9.1,-9.3, -9.5,-9.8,-9.4,-8.8, -8.3,-7.8,-7.1,-7.0, -7.1,-7.3,-7.5,-7.8, -8.3,-9.0,-9.2,-9.2, -9.6,-10.2,-10.8,-11.6, -12.4,-13.0,-13.3,-12.6, -11.4,-10.4,-9.8,-10.4, -11.2,-12.0,-12.6,-11.8, -10.8,-10.0,-9.6,-9.8, -10.2,-10.0,-9.6,-9.4, -9.6],
[-5.8,-7.1,-8.1,-8.7, -7.2,-8.2,-6.8,-6.7, -8.7,-8.8,-8.6,-8.4, -8.2,-8.0,-7.8,-7.6, -7.8,-7.6,-7.4,-7.2, -7.6,-8.0,-8.4,-8.8, -9.2,-9.6,-9.2,-8.6, -8.0,-7.4,-6.8,-6.6, -6.8,-7.0,-7.2,-7.5, -8.0,-8.7,-8.9,-8.9, -9.1,-9.3,-9.2,-9.1, -9.0,-8.9,-8.7,-8.6, -8.4,-8.2,-8.0,-7.8, -7.9,-8.1,-8.2,-8.3, -8.5,-8.6,-8.3,-8.1, -8.1,-8.0,-7.9,-7.8, -7.9],
[-6.0,-7.2,-8.2,-8.6, -6.8,-7.8,-6.5,-6.4, -8.6,-8.8,-8.7,-8.6, -8.5,-8.3,-8.2,-8.0, -8.2,-8.3,-8.4,-8.1, -8.4,-8.6,-8.7,-8.9, -9.1,-9.4,-9.0,-8.4, -7.8,-7.2,-6.6,-6.4, -6.4,-6.2,-6.4,-6.8, -7.4,-8.2,-8.4,-8.2, -8.2,-8.0,-7.8,-7.4, -7.2,-7.0,-6.8,-6.6, -6.4,-6.2,-6.0,-5.8, -5.6,-5.4,-5.2,-5.0, -4.8,-4.6,-4.2,-3.8, -3.4,-2.6,-2.0,-1.6, -2.3],
[-6.0,-7.4,-8.4,-9.0, -7.5,-8.5,-7.1,-7.1, -9.2,-9.4,-9.3,-9.2, -9.1,-8.9,-8.8,-8.6, -8.8,-8.9,-9.0,-8.7, -9.0,-9.2,-9.3,-9.5, -9.7,-10.0,-9.6,-9.0, -8.5,-8.0,-7.3,-7.2, -7.3,-7.5,-7.7,-8.0, -8.5,-9.2,-9.4,-9.0, -8.0,-7.0,-5.9,-7.4, -8.4,-8.6,-8.8,-9.0, -9.2,-9.6,-10.0,-10.8, -11.6,-12.4,-13.5,-16.4, -18.0,-16.9,-15.4,-12.6, -11.4,-10.8,-10.4,-10.0, -9.8],
[-6.2,-7.4,-8.4,-8.9, -7.4,-8.4,-7.0,-7.0, -9.1,-9.3,-9.2,-9.1, -9.0,-8.8,-8.7,-8.5, -8.7,-8.8,-8.9,-8.6, -8.9,-9.1,-9.4,-9.8, -10.2,-10.4,-10.0,-9.4, -8.8,-8.4,-7.8,-7.8, -8.0,-8.4,-8.8,-9.2, -9.6,-10.2,-10.4,-10.2, -10.0,-9.8,-9.6,-9.4, -9.2,-9.0,-8.8,-8.6, -8.4,-8.2,-8.0,-7.8, -7.6,-7.4,-7.2,-7.6, -8.2,-8.8,-9.4,-10.0, -10.4,-10.8,-11.2,-11.6, -11.8],
[-5.9,-7.2,-8.2,-8.7, -7.2,-8.2,-6.8,-6.8, -8.9,-9.1,-9.0,-8.9, -8.8,-8.6,-8.5,-8.3, -8.5,-8.6,-8.7,-8.4, -8.7,-8.9,-9.0,-9.2, -9.4,-9.7,-9.3,-8.7, -8.2,-7.6,-6.9,-6.8, -6.9,-7.1,-7.3,-7.6, -8.1,-8.8,-9.0,-9.0, -9.2,-9.4,-9.3,-9.2, -9.0,-8.6,-8.0,-7.4, -7.0,-6.6,-6.4,-6.6, -6.8,-7.0,-7.2,-7.4, -7.6,-7.8,-7.6,-7.4, -7.4,-7.6,-7.8,-8.0, -8.2],
[-6.1,-7.3,-8.3,-8.8, -7.2,-8.2,-6.6,-6.5, -8.8,-9.0,-8.9,-8.8, -8.7,-8.5,-8.4,-8.2, -8.4,-8.5,-8.6,-8.3, -8.6,-8.8,-8.9,-9.1, -9.3,-9.6,-9.2,-8.6, -8.0,-7.4,-6.8,-6.7, -6.8,-7.0,-7.2,-7.6, -8.2,-8.9,-9.1,-9.1, -9.3,-9.5,-9.4,-9.3, -9.2,-9.0,-8.8,-8.6, -8.4,-8.2,-8.0,-8.2, -8.6,-9.0,-9.4,-9.2, -9.0,-8.8,-8.6,-8.8, -9.0,-9.2,-9.4,-9.6, -9.8],
[-6.4,-7.6,-8.5,-9.0, -7.6,-8.6,-7.2,-7.2, -9.2,-9.4,-9.3,-9.2, -9.1,-8.9,-8.8,-8.6, -8.8,-8.9,-9.0,-8.7, -9.0,-9.2,-9.3,-9.5, -9.7,-10.0,-9.6,-9.0, -8.5,-8.0,-7.3,-6.8, -6.6,-6.4,-6.6,-7.0, -7.6,-8.4,-8.8,-9.0, -9.4,-9.8,-10.2,-10.6, -11.0,-11.4,-11.8,-12.2, -12.4,-12.6,-12.6,-12.0, -11.2,-10.6,-10.0,-9.6, -9.4,-9.2,-9.0,-8.8, -8.6,-8.4,-8.2,-8.0, -7.8],
[-5.9,-7.2,-8.2,-8.8, -7.3,-8.3,-6.9,-6.9, -9.0,-9.2,-9.1,-9.0, -8.9,-8.7,-8.6,-8.4, -8.6,-8.7,-8.8,-8.5, -8.8,-9.0,-9.1,-9.3, -9.5,-9.8,-9.4,-8.8, -8.3,-7.8,-7.1,-7.0, -7.1,-7.3,-7.5,-7.8, -8.3,-9.0,-9.2,-9.2, -9.4,-9.6,-9.5,-9.4, -9.3,-9.2,-9.0,-8.9, -8.6,-8.2,-7.8,-7.6, -7.4,-7.6,-7.8,-8.0, -8.2,-8.4,-8.0,-7.6, -7.4,-7.2,-7.0,-6.8, -7.0],
[-6.0,-7.3,-8.3,-8.8, -7.3,-8.3,-6.9,-6.9, -9.0,-9.2,-9.1,-9.0, -8.9,-8.7,-8.6,-8.4, -8.6,-8.7,-8.8,-8.5, -8.8,-9.0,-9.1,-9.3, -9.5,-9.8,-9.4,-8.8, -8.3,-7.8,-7.1,-7.0, -7.1,-7.3,-7.5,-7.8, -8.3,-9.0,-9.2,-9.4, -9.8,-10.2,-10.0,-9.8, -9.6,-9.4,-9.2,-9.0, -8.8,-8.6,-8.8,-9.4, -10.2,-11.0,-11.6,-12.0, -11.4,-10.6,-10.0,-9.6, -9.4,-9.2,-9.0,-8.8, -8.6],
[-6.0,-7.3,-8.3,-8.8, -7.3,-8.3,-6.9,-6.9, -9.0,-9.2,-9.1,-9.0, -8.9,-8.7,-8.6,-8.4, -8.6,-8.7,-8.8,-8.5, -8.8,-9.0,-9.1,-9.3, -9.5,-9.8,-9.4,-8.8, -8.3,-7.8,-7.1,-7.0, -7.1,-7.3,-7.5,-7.8, -8.3,-9.0,-9.2,-9.2, -9.4,-9.6,-9.5,-9.4, -9.3,-9.2,-9.0,-8.9, -8.7,-8.5,-8.3,-8.1, -8.2,-8.4,-8.0,-7.2, -6.4,-5.8,-6.2,-7.0, -8.4,-10.6,-12.8,-15.0, -13.3],
[-6.6,-7.8,-8.6,-9.0, -7.8,-8.6,-7.4,-7.4, -9.3,-9.5,-9.4,-9.3, -9.2,-9.0,-8.9,-8.7, -8.9,-9.0,-9.1,-8.8, -9.1,-9.3,-9.4,-9.6, -9.8,-10.1,-9.7,-9.1, -8.6,-8.1,-7.4,-7.3, -7.4,-7.6,-7.8,-8.1, -8.6,-9.3,-9.5,-9.5, -9.7,-9.9,-9.8,-9.7, -9.6,-9.5,-9.3,-9.2, -9.0,-8.8,-8.6,-8.4, -8.5,-8.7,-8.8,-8.9, -9.1,-9.2,-8.9,-8.7, -8.7,-8.6,-8.5,-8.4, -8.5],
[-5.8,-7.6,-8.8,-9.7, -7.8,-9.2,-7.2,-7.0, -8.8,-9.0,-8.8,-8.6, -8.4,-8.2,-8.0,-7.8, -8.0,-8.1,-8.2,-7.9, -8.2,-8.4,-8.5,-8.7, -8.9,-9.2,-8.6,-7.6, -6.6,-6.2,-6.0,-5.8, -5.8,-5.6,-5.4,-5.6, -6.2,-7.0,-7.4,-7.6, -8.0,-8.4,-8.6,-8.8, -9.0,-9.2,-9.4,-9.6, -9.8,-10.0,-10.2,-10.4, -10.6,-10.4,-10.2,-10.4, -10.8,-11.2,-11.0,-10.6, -10.4,-10.2,-10.0,-9.8, -9.6],
[-6.0,-7.3,-8.3,-8.8, -7.3,-8.3,-6.9,-6.9, -9.0,-9.2,-9.1,-9.0, -8.9,-8.7,-8.6,-8.4, -8.6,-8.7,-8.8,-8.5, -8.8,-9.0,-9.1,-9.3, -9.5,-9.8,-9.4,-8.8, -8.3,-7.8,-7.1,-7.0, -7.1,-7.3,-7.5,-7.8, -8.3,-9.0,-9.2,-9.2, -9.4,-9.6,-9.5,-9.4, -9.3,-9.2,-9.0,-8.9, -8.8,-8.8,-9.0,-9.2, -9.4,-9.6,-9.8,-9.6, -9.4,-9.2,-9.4,-9.6, -9.8,-10.0,-10.2,-10.0, -9.8]
];

// precipitation (mm), one value per 6 h step from +6h to +384h
const precipMean = [0.1,0.1,0.1,0.1, 0.1,0.1,0.1,0.1, 0.1,0.1,0.1,0.1, 0.1,0.1,0.1,0.1, 0.1,0.1,0.1,0.1, 0.1,0.1,0.1,0.1, 0.2,0.2,0.1,0.1, 0.1,0.1,0.1,0.1, 0.1,0.1,0.1,0.1, 0.1,0.1,0.1,0.2, 0.2,0.2,0.1,0.1, 0.1,0.2,0.2,0.2, 0.2,0.3,0.3,0.5, 0.6,0.3,0.2,0.2, 0.2,0.1,0.3,0.3, 0.3,0.2,0.2,0.1];
const precipCtrl = [0,0,0,0, 0,0,0,0, 0,0,0,0, 0,0,0,0, 0,0,0,0, 0,0,0,0, 0,0,0,0, 0,0,0,0, 0,0,0,0, 0,0,0,0, 0,0,0,0, 0,0,0,0, 0,0,0,0, 0,0,0,0, 0,0,0,0, 0,0,0,0];
const precipGfs = [0,0,0,0, 0,0,0,0, 0,0,0,0, 0,0,0,0, 0,0,0,0, 0,0,0,0, 0,0,0,0, 0,0,0,0, 0,0,0,0, 0,0,0,0, 0,0,0,0, 0,0,0,0, 0,0,0,0, 0,0,0,0, 0,0,0,0, 0,0,0,0];
const precipMembers = [
[0,0,0,0, 0,0,0,0, 0,0,0,0, 0,0,0,0, 0,0,0,0, 0,0,0,0, 0,0,0,0, 0,0,0,0, 0,0,0,0, 0,0,0,0, 0,0,0,0, 0,0,0,0, 0,0,0,0, 0,0,0,0, 0,0,0,0, 0,0,0,0],
[0,0,0,0, 0,0,0,0, 0,0,0,0, 0,0,0,0, 0,0,0,0, 0,0,0,0, 0,0,0,0, 0,0,0,0, 0,0,0,0, 0,0,0,0, 0,0,0,0, 0,0,0,0, 0,0,0,0, 0,0,0,0, 0,0,0,0, 0,0,0,0],
[0,0,0,0, 0,0,0,0, 0,0,0,0, 0,0,0,0, 0,0,0,0, 0,0,0,0, 0,0,0,0, 0,0,0,0, 0,0,0,0, 0,0,0,0, 0,0,0,0, 0,0,0,0, 0,0,0,0, 0,0,0,0, 0,0,0,0, 0,0,0,0],
[0,0,0,0, 0,0,0,0, 0,0,0,0, 0,0,0,0, 0,0,0,0, 0,0,0,0, 0,0,0,0, 0,0,0,0, 0,0,0,0, 0,0,0,0, 0,0,0,0, 0,0,0,0, 0,0,0,0, 0,0,0,0, 0,0,0,0, 0,0,0,0],
[0,0,0,0, 0,0,0,0, 0,0,0,0, 0,0,0,0, 0,0,0,0, 0,0,0,0.3, 0.9,0.7,0.2,0, 0,0,0,0, 0,0,0,0, 0,0,0,0, 0,0,0,0, 0,0,0,0, 0,0,0,0, 0,0,0,0, 0,0,0,0, 0.4,0.9,0.9,0.2],
[0,0,0,0, 0,0,0,0, 0,0,0,0, 0,0,0,0, 0,0,0,0, 0,0,0,0, 0,0,0,0, 0,0,0,0, 0,0,0,0, 0,0,0,0, 0,0,0,0, 0,0,0,0, 0,0,0,0, 0,0,0,0, 2.0,0.6,0.3,1.2, 0.3,0,0,0],
[0,0,0,0, 0,0,0,0, 0,0,0,0, 0,0,0,0, 0,0,0,0, 0,0,0,0, 0,0,0,0, 0,0,0,0, 0,0,0,0, 0,0,0,0, 0,0,0,0, 0,0,0,0, 0,0,0,0, 0,0,0,0, 0,0,0,0, 0,0,0,0],
[0,0,0,0, 0,0,0,0, 0,0,0,0, 0,0,0,0, 0,0,0,0, 0,0,0,0, 0,0,0,0, 0,0.2,0.3,0.2, 0,0,0,0, 0,0,0,0, 0,0,0,0, 0,0,0,0, 0,0,0,0, 0,0,0,0, 0,0,0,0, 0,0,0,0],
[0,0,0,0, 0,0,0,0, 0,0,0,0, 0,0,0,0, 0,0,0,0, 0,0,0,0, 0,0,0,0, 0,0,0,0, 0,0,0,0, 0,0,0,0.4, 1.0,0.9,0.3,0, 0,0,0.2,0, 0,0,0,0, 0,0,0,0, 0,0,0,0, 0,0,0,0],
[0,0,0,0, 0,0,0,0, 0,0,0,0, 0,0,0,0, 0,0,0,0, 0,0,0,0, 0,0,0,0, 0,0,0,0, 0,0,0,0, 0,0,0,0, 0,0,0,0, 0,0,0,0, 0,0,0,0, 0,0,0,0, 0,0,0,0, 0,0,0,0],
[0,0,0,0, 0,0,0,0, 0,0,0,0, 0,0,0,0, 0,0,0,0, 0,0,0,0, 0,0,0,0, 0,0,0,0, 0,0,0,0, 0,0,0,0, 0,0,0,0, 0,0,0,0, 0,0,0,0, 0,0,0,0, 0,0,0,0, 0,0,0,0],
[0,0,0,0, 0,0,0,0, 0,0,0,0, 0,0,0,0, 0,0,0,0, 0,0,0,0, 0,0,0,0, 0,0,0,0, 0,0,0,0, 0,0,0,0, 0,0,0,0, 0,0.3,0,0, 0,0,0,0, 0,0,0,0, 0,0,0,0, 0,0,0,0],
[0,0,0,0, 0,0,0,0, 0,0,0,0, 0,0,0,0, 0,0,0,0, 0,0,0,0, 0,0,0,0, 0,0,0,0, 0,0,0,0, 0,0,0,0, 0,0,0,0, 0,0,0,0, 0,0,0,0, 0,0,0,0, 0,0,0,0, 0,0,0,0],
[0,0,0,0, 0,0,0,0, 0,0,0,0, 0,0,0,0, 0,0,0,0, 0,0,0,0, 0,0,0,0, 0,0,0,0, 0,0,0,0, 0,0,0,0, 0,0,0,0, 0,0,0,0, 0,0,0.3,7.4, 7.7,0.9,0.8,0.6, 0.5,0,0,0, 0,0,0,0],
[0,0,0,0, 0,0,0,0, 0,0,0,0, 0,0,0,0, 0,0,0,0, 0,0,0,0, 0,0,0,0, 0,0,0,0, 0,0,0,0, 0,0,0,0, 0,0,0,0, 0,0,0,0, 0,0,0,0, 0,0,0,0, 0,0,0,0, 0,0,0,0],
[0,0,0,0, 0,0,0,0, 0,0,0,0, 0,0,0,0, 0,0,0,0, 0,0,0,0, 0,0,0,0, 0,0,0,0, 0,0,0,0, 0,0,0,0, 0,0,0,0, 0,0,0,0, 0,0,0,0, 0,0,0,0, 0,0,0,0, 0,0,0,0],
[0,0,0,0, 0,0,0,0, 0,0,0,0, 0,0,0,0, 0,0,0,0, 0,0,0,0, 0,0,0,0, 0,0,0,0, 0,0,0,0, 0,0,0,0, 0,0,0,0, 0,0.6,0.2,0, 0,0,0,2.2, 2.3,0.5,0,0, 0.4,0.6,0.5,0, 0,0,0,0],
[0,0,0,0, 0,0,0,0, 0,0,0,0, 0,0,0,0, 0,0,0,0, 0,0,0,0, 0,0,0,0, 0,0,0,0, 0,0,0,0, 0,0,0,0, 0,0,0,0, 0,0,0,0, 0,0,0,0, 0,0,0,0, 0,0,0,0, 0,0,0,0],
[0,0,0,0, 0,0,0,0, 0,0,0,0, 0,0,0,0, 0,0,0,0, 0,0,0,0, 0,0,0,0, 0,0,0,0, 0,0,0,0, 0,0,0,0, 0,0,0,0, 0,0,0,0, 0,0,0,0, 0,0,0,0, 0,0,0,0, 0.4,0.6,0.7,0],
[0,0,0,0, 0,0,0,0, 0,0,0,0, 0,0,0,0, 0,0,0,0, 0,0,0,0, 0,0,0,0, 0,0,0,0, 0,0,0,0, 0,0,0,0, 0,0,0,0, 0,0,0,0.2, 0.5,2.6,0.9,0.3, 0,1.7,1.6,1.4, 0.9,0.2,0,0, 0,0,0,0],
[0,0,0,0, 0,0,0,0, 0,0,0,0, 0,0,0,0, 0,0,0,0, 0,0,0,0, 0,0,0,0, 0,0,0,0, 0,0,0,0, 0,0,0,0, 0,0,0,0, 0,0.2,0.7,1.3, 0.5,0,0,0, 0,0,0,0, 0,0,0,0, 0,0,0,0],
[0,0,0,0, 0,0,0,0, 0,0,0,0, 0,0,0,0, 0,0,0,0, 0,0,0,0, 0,0,0,0, 0,0,0,0, 0,0,0,0, 0,0,0,0, 0,0,0,0, 0,0,0,0, 0,0,0,0, 0,0,0,0, 0,0,0,0, 0,0,0,0],
[0,0,0,0, 0,0,0,0, 0,0,0,0, 0,0,0,0, 0,0,0,0, 0,0,0,0, 0,0,0,0, 0,0,0,0, 0,0,0,0, 0,0,0,0, 0,0,0,0, 0,0,0,0, 0,0,0,0, 0,0,0,0, 0,0,0,0, 0,0,0,0],
[0,0,0,0, 0,0,0,0, 0,0,0,0, 0,0,0,0, 0,0,0,0, 0,0,0,0, 0,0,0,0, 0,0,0,0, 0,0,0,0, 0,0,0,0, 0,0,0,0, 0,0,0,0, 0,0,0,0, 0,0,0,0, 0,0.1,5.0,5.0, 5.0,0.2,0,0],
[0,0,0,0, 0,0,0,0, 0,0,0,0, 0,0,0,0, 0,0,0,0, 0,0,0,0, 0,0,0,0, 0,0,0,0, 0,0,0,0, 0,0,0,0, 0,0,0,0, 0,0,0,0, 0,0,0,0, 0,0,0,0, 0,0,0,0, 0,0,0,0],
[0,0,0,0, 0,0,0,0, 0,0,0,0, 0,0,0,0, 0,0,0,0, 0,0,0,0, 0,0,0,0, 0,0,0,0, 0,0,0,0, 0,0,0,0, 0,0,0,0, 0,0,0,0, 0,0,0,0, 0,0,0,0, 0,0,0,0, 0,0,0,0],
[0,0,0,0, 0,0,0,0, 0,0,0,0, 0,0,0,0, 0,0,0,0, 0,0,0,0, 0,0,0,0, 0,0,0,0, 0,0,0,0, 0,0,0,0, 0,0,0,0, 0,0,0,0, 0,0,0,0, 0,0,0,0, 0,0,0,0.3, 0.5,0.3,2.7,0.1],
[0,0,0,0, 0,0,0,0, 0,0,0,0, 0,0,0,0, 0,0,0,0, 0,0,0,0, 0,0,0,0, 0,0,0,0, 0,0,0,0, 0,0,0,0, 0,0,0,0, 0,0,0,0, 0,0,0,0, 0,0,0,0, 0,0,0,0, 0,0,0,0],
[0,0,0,0, 0,0,0,0, 0,0,0,0, 0,0,0,0, 0,0,0,0, 0,0,0,0, 0,0,0,0, 0,0,0,0, 0,0,0,0, 0,0,0,0, 0,0,0,0, 0,0,0,0, 0,0,0,0, 0,0,0,0, 0,0,0,0, 0,0,0,0],
[0,0,0,0, 0,0,0,0, 0,0,0,0, 0,0,0,0, 0,0,0,0, 0,0,0,0, 0,0,0,0, 0,0,0,0, 0,0,0,0, 0,0,0,0, 0,0,0,0, 0,0,0,0, 0,0,0,0, 0,0,0,0, 0,0,0,0, 0,0,0,0]
];

// ---------------- DRAWING ----------------
const FONT = '"DejaVu Sans Mono", "Liberation Mono", monospace';
const svg = d3.select("#chart");
svg.append("rect").attr("width", 740).attr("height", 700).attr("fill", "#fff");

const steps = t850Mean.length - 1;
const x = d3.scaleLinear().domain([0, steps]).range([50, 690]);
const yT = d3.scaleLinear().domain([-45, 30]).range([546, 21]);
const yP = d3.scaleLinear().domain([0, 75]).range([546, 21]);
const dayIdx = dates.map((d, i) => i * 4);

// grid: horizontal first, vertical lines on top
const gGrid = svg.append("g").attr("shape-rendering", "crispEdges");
const hTicks = leftTicks.filter(d => d !== 0);
gGrid.selectAll("line.h").data(hTicks).join("line").attr("class", "h")
  .attr("x1", 50).attr("x2", 691)
  .attr("y1", d => d % 10 === 0 ? yT(d) : Math.round(yT(d)) + 0.5)
  .attr("y2", d => d % 10 === 0 ? yT(d) : Math.round(yT(d)) + 0.5)
  .attr("stroke", "#c0c0c0")
  .attr("stroke-width", d => d % 10 === 0 ? 2 : 1);
// double separator line at 0 °C
const y0 = Math.round(yT(0));
gGrid.append("rect").attr("x", 50).attr("y", y0 - 2).attr("width", 641).attr("height", 3).attr("fill", "#b8b8b8");
gGrid.append("line").attr("x1", 50).attr("x2", 691).attr("y1", y0 - 1.5).attr("y2", y0 - 1.5).attr("stroke", "#8a8a8a");
gGrid.append("line").attr("x1", 50).attr("x2", 691).attr("y1", y0 + 0.5).attr("y2", y0 + 0.5).attr("stroke", "#8a8a8a");
gGrid.selectAll("line.v").data(dayIdx).join("line").attr("class", "v")
  .attr("x1", d => Math.round(x(d)) + 0.5).attr("x2", d => Math.round(x(d)) + 0.5)
  .attr("y1", 0).attr("y2", 600).attr("stroke", "#c0c0c0").attr("stroke-width", 1);
svg.append("line").attr("x1", 50).attr("x2", 691).attr("y1", 600.5).attr("y2", 600.5)
  .attr("stroke", "#000").attr("stroke-width", 1.5);

// axes
function styleAxis(g) {
  g.select(".domain").remove();
  g.selectAll(".tick line").remove();
  g.selectAll("text").attr("x", 0).attr("dy", null).attr("y", 6).attr("text-anchor", "start")
    .attr("font-family", FONT).attr("font-size", 10.5).attr("fill", "#000");
}
svg.append("g").attr("transform", "translate(20,0)")
  .call(d3.axisLeft(yT).tickValues(leftTicks).tickSize(0).tickPadding(0).tickFormat(d => String(d)))
  .call(styleAxis);
svg.append("g").attr("transform", "translate(709,0)")
  .call(d3.axisRight(yP).tickValues(rightTicks).tickSize(0).tickPadding(0).tickFormat(d => String(d)))
  .call(styleAxis);
const gDates = svg.append("g").attr("transform", "translate(0,600)")
  .call(d3.axisBottom(x).tickValues(dayIdx).tickSize(0).tickPadding(0).tickFormat((d, i) => dates[i]));
gDates.select(".domain").remove();
gDates.selectAll("text").attr("transform", "rotate(-90)").attr("x", -31).attr("y", 11.5).attr("dy", null)
  .attr("text-anchor", "start").attr("font-family", FONT).attr("font-size", 10).attr("fill", "#000");

// series
const lineT = d3.line().x((d, i) => x(i)).y(d => yT(d));
const lineP = d3.line().x((d, i) => x(i + 1)).y(d => yP(d));
const gMem = svg.append("g");
function drawMember(arr, gen, ys, off, color) {
  gMem.append("path").attr("d", gen(arr)).attr("fill", "none").attr("stroke", color).attr("stroke-width", 1);
  gMem.append("g").selectAll("rect").data(arr).join("rect")
    .attr("x", (d, i) => x(i + off) - 1.5).attr("y", d => ys(d) - 1.5)
    .attr("width", 3).attr("height", 3).attr("fill", color);
}
memberColors.forEach((c, k) => {
  drawMember(t850Members[k], lineT, yT, 0, c);
  drawMember(t500Members[k], lineT, yT, 0, c);
  drawMember(precipMembers[k], lineP, yP, 1, c);
});
function drawThick(arr, gen, color, w) {
  svg.append("path").attr("d", gen(arr)).attr("fill", "none").attr("stroke", color)
    .attr("stroke-width", w).attr("stroke-linejoin", "round");
}
[[t850Gfs, lineT], [t500Gfs, lineT], [precipGfs, lineP]].forEach(([a, g]) => drawThick(a, g, "#000", 3));
[[t850Ctrl, lineT], [t500Ctrl, lineT], [precipCtrl, lineP]].forEach(([a, g]) => drawThick(a, g, "#0000ff", 3.5));
[[t850Mean, lineT], [t500Mean, lineT], [precipMean, lineP]].forEach(([a, g]) => drawThick(a, g, "#ff0000", 5));

// labels in plot
function txt(s, px, py, size, weight, fill) {
  return svg.append("text").attr("x", px).attr("y", py).attr("font-family", FONT)
    .attr("font-size", size || 10).attr("font-weight", weight || "normal").attr("fill", fill || "#000").text(s);
}
txt("Temp. 850hPa", 60, 47.5);
txt("Temp. 500hPa", 60, 263.5);
txt("Précipitations", 60, 540.5);
txt("(°C)", 21, 609.5);
txt("Alt. 0m", 10, 626.5);
txt("(mm)", 710, 609.5);

// legend
svg.append("line").attr("x1", 35).attr("x2", 66).attr("y1", 637).attr("y2", 637).attr("stroke", "#ff0000").attr("stroke-width", 4);
txt("Moyenne des scénarios", 75, 640.5);
svg.append("line").attr("x1", 225).attr("x2", 256).attr("y1", 637).attr("y2", 637).attr("stroke", "#0000ff").attr("stroke-width", 4);
txt("Run de contrôle", 265, 640.5);
svg.append("line").attr("x1", 225).attr("x2", 256).attr("y1", 647).attr("y2", 647).attr("stroke", "#000").attr("stroke-width", 4);
txt("Run GFS", 265, 650.5);
svg.append("text").attr("x", 60).attr("y", 663.5).attr("text-anchor", "middle")
  .attr("font-family", '"DejaVu Sans", sans-serif').attr("font-size", 12).attr("fill", "#5aa8e8").text("❄");
txt("Risque neige", 75, 663);
txt("30 Perts.", 340, 656);
const gLeg = svg.append("g");
gLeg.selectAll("rect").data(memberColors).join("rect")
  .attr("x", (d, i) => 400 + 11 * i).attr("y", 649.5).attr("width", 10).attr("height", 7).attr("fill", d => d);
gLeg.selectAll("text").data(memberColors).join("text")
  .attr("x", (d, i) => 405 + 11 * i).attr("y", 646).attr("text-anchor", "middle")
  .attr("font-family", FONT).attr("font-size", 7.5).attr("font-weight", "bold").attr("fill", "#000")
  .text((d, i) => String(i + 1).padStart(2, "0"));

// footer
svg.append("rect").attr("x", 20.5).attr("y", 667.5).attr("width", 419).attr("height", 31)
  .attr("fill", "none").attr("stroke", "#000").attr("stroke-width", 1.5);
txt("Diagramme des ensembles GEFS sur 384h : 40.5N 13E", 30, 681, 11.4, "bold");
txt("Températures 850hPa et 500hPa (°C) , précipitations (mm)", 30, 695, 10);
txt("Ensemble GEFS du 23/08/2026 - 00Z", 450, 679.5, 10);
txt("Copyright 2026 Meteociel.fr", 450, 696, 11.5, "bold");
</script>
</body></html>
